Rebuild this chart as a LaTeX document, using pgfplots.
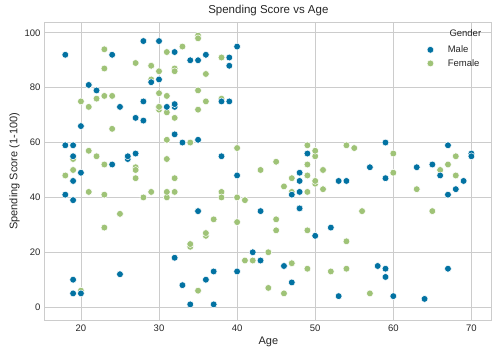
\documentclass[border=0pt]{standalone}
\usepackage{pgfplots}
\pgfplotsset{compat=1.18}
\usepackage{pgfplotstable}
\usepackage{fontspec}
\setmainfont{Liberation Sans}
\definecolor{male}{HTML}{0272A2}
\definecolor{female}{HTML}{9FC377}
\definecolor{gridc}{HTML}{CCCCCC}
\definecolor{txt}{HTML}{262626}
\pgfplotstableread{
age score
19 39
21 81
64 3
67 14
37 13
22 79
20 66
52 29
35 35
25 73
31 73
29 82
35 61
60 4
53 4
18 92
24 92
48 36
33 60
59 60
47 41
69 46
53 46
70 56
19 55
63 51
18 59
19 59
70 55
59 47
26 54
40 48
57 51
38 55
67 41
48 46
18 41
48 49
24 52
48 42
20 49
67 59
26 55
49 56
54 46
68 43
66 48
65 52
19 46
27 56
39 91
43 35
40 95
59 11
38 75
47 9
39 75
20 5
32 73
19 10
32 93
25 12
28 97
48 36
34 90
43 17
39 88
37 1
34 1
19 5
50 26
42 20
32 63
40 13
28 75
36 10
36 92
58 15
27 69
59 14
35 90
46 15
30 97
28 68
33 8
32 74
32 18
30 83
}\maletable
\pgfplotstableread{
age score
20 6
23 77
31 40
22 76
35 6
23 94
30 72
35 99
58 15
24 77
35 35
35 98
46 5
54 14
45 32
40 31
23 87
21 73
49 14
21 81
42 17
30 73
36 26
20 75
65 35
31 61
49 28
24 65
50 55
27 47
29 42
31 42
49 52
31 54
50 45
51 50
27 51
67 52
54 59
43 50
68 48
32 47
47 42
60 49
60 56
45 53
23 52
49 42
46 44
21 57
55 58
22 55
34 60
50 46
68 55
40 40
32 42
47 47
27 50
23 41
49 48
21 42
66 50
19 54
38 42
18 48
19 50
63 43
49 59
51 43
50 57
38 40
40 58
23 29
31 77
25 34
31 71
29 88
44 7
35 72
57 5
28 40
32 87
32 74
34 22
44 20
38 76
47 16
27 89
30 78
30 73
56 35
29 83
31 93
36 75
33 95
36 27
52 13
30 86
37 32
32 86
29 88
41 39
54 24
41 17
36 85
34 23
32 69
38 91
47 16
35 79
45 28
}\femaletable
\begin{document}
\begin{tikzpicture}
\begin{axis}[
  at={(0,0)}, anchor=south west,
  scale only axis,
  width=446.7pt, height=298.7pt,
  xmin=15.4, xmax=72.6, ymin=-4.95, ymax=103.95,
  xtick={20,30,40,50,60,70},
  ytick={0,20,40,60,80,100},
  grid=major,
  major grid style={gridc, line width=0.8pt},
  axis line style={gridc, line width=1pt},
  tick style={draw=none},
  /pgf/number format/assume math mode=true,
  ticklabel style={font=\fontsize{9.5}{11}\selectfont, text=txt},
  xticklabel style={yshift=-1pt},
  yticklabel style={xshift=-1pt},
  xlabel={Age},
  ylabel={Spending Score (1-100)},
  label style={font=\fontsize{11}{13}\selectfont, text=txt},
  xlabel style={yshift=2pt},
  ylabel style={yshift=-2pt},
  title={Spending Score vs Age},
  title style={font=\fontsize{11.5}{13}\selectfont, text=txt, yshift=-3pt},
  legend style={draw=none, fill=none, at={(rel axis cs:0.848,0.935)}, anchor=north west,
    font=\fontsize{9.5}{11}\selectfont, text=txt, row sep=1.2pt,
    /tikz/every odd column/.append style={column sep=12pt}},
  legend cell align=left,
  clip=false,
]
\addlegendimage{only marks, mark=*, mark size=3.4pt, mark options={fill=male, draw=white, line width=0.5pt}}
\addlegendentry{Male}
\addlegendimage{only marks, mark=*, mark size=3.4pt, mark options={fill=female, draw=white, line width=0.5pt}}
\addlegendentry{Female}
\addplot[forget plot, only marks, mark=*, mark size=3.4pt, mark options={fill=female, draw=white, line width=0.5pt}] table[x=age,y=score] {\femaletable};
\addplot[forget plot, only marks, mark=*, mark size=3.4pt, mark options={fill=male, draw=white, line width=0.5pt}] table[x=age,y=score] {\maletable};
\node[font=\fontsize{9.5}{11}\selectfont, text=txt] at (rel axis cs:0.941,0.963) {Gender};
\end{axis}
\pgfresetboundingbox
\path (-45pt,-36.3pt) rectangle (453pt,320.7pt);
\end{tikzpicture}
\end{document}
